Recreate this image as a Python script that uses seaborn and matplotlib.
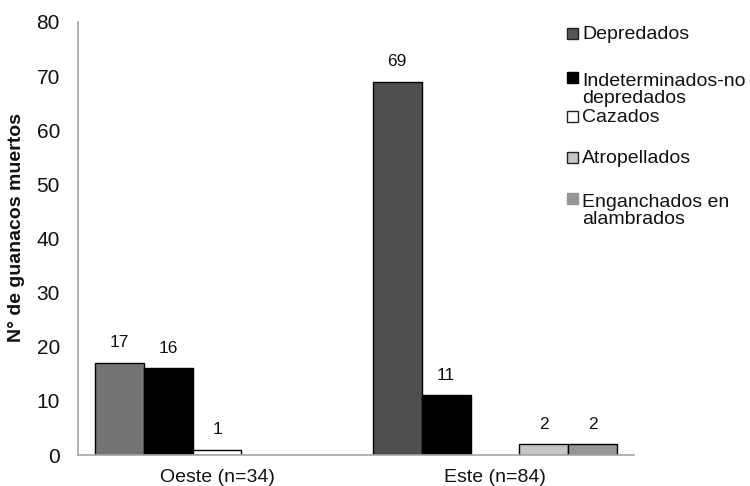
import matplotlib
matplotlib.use("Agg")
import matplotlib.pyplot as plt
from matplotlib.patches import Rectangle
import seaborn as sns
import pandas as pd

zonas = ["Oeste (n=34)", "Este (n=84)"]
causas = ["Depredados", "Indeterminados-no\ndepredados", "Cazados",
          "Atropellados", "Enganchados en\nalambrados"]
oeste = [17, 16, 1, 0, 0]
este = [69, 11, 0, 2, 2]
y_ticks = [0, 10, 20, 30, 40, 50, 60, 70, 80]

colores = ["#4f4f4f", "#000000", "#ffffff", "#c6c6c6", "#969696"]
color_oeste_depredados = "#747474"

rows = []
for zona, vals in zip(zonas, [oeste, este]):
    for causa, v in zip(causas, vals):
        rows.append({"zona": zona, "causa": causa, "n": v})
df = pd.DataFrame(rows)

sns.set_style("white")
plt.rcParams["font.family"] = ["Liberation Sans", "DejaVu Sans"]

fig = plt.figure(figsize=(7.5, 4.86), dpi=100)
ax = fig.add_axes([78 / 750, 31 / 486, 556 / 750, 433 / 486])

sns.barplot(data=df, x="zona", y="n", hue="causa", order=zonas,
            hue_order=causas, palette=colores, edgecolor="black",
            linewidth=1.0, width=0.88, gap=0, legend=False, ax=ax,
            errorbar=None)

# per-bar adjustments and value labels
for ci, cont in enumerate(ax.containers):
    vals = [oeste[ci], este[ci]]
    for bi, bar in enumerate(cont):
        if vals[bi] == 0:
            bar.set_visible(False)
        if ci == 0 and bi == 0:
            bar.set_facecolor(color_oeste_depredados)
    labels = [str(v) if v > 0 else "" for v in vals]
    ax.bar_label(cont, labels=labels, padding=9, fontsize=12.5, color="#111111")

ax.set_ylim(0, 80)
ax.set_yticks(y_ticks)
ax.set_xlim(-0.5, 1.5)
ax.tick_params(axis="y", length=0, pad=13, labelsize=15, labelcolor="#111111")
ax.tick_params(axis="x", length=0, pad=10, labelsize=14, labelcolor="#111111")
ax.set_xlabel("")
ax.set_ylabel("N° de guanacos muertos", fontsize=14, fontweight="bold",
              color="#111111")
ax.yaxis.set_label_coords(-0.095, 0.525)

for side in ["top", "right"]:
    ax.spines[side].set_visible(False)
for side in ["left", "bottom"]:
    ax.spines[side].set_color("#a6a6a6")
    ax.spines[side].set_linewidth(1.2)

# legend drawn as squares and labels in figure pixels
W, H = 750, 486
box_base = [39, 83, 122, 163, 204]
text_base = [39, 103, 122, 163, 224]
leg_colors = ["#555555", "#000000", "#ffffff", "#c6c6c6", "#969696"]
leg_edges = ["#222222", "#000000", "#222222", "#222222", "#969696"]
for txt, yb, yt, fc, ec in zip(causas, box_base, text_base, leg_colors, leg_edges):
    fig.patches.append(Rectangle((567 / W, (H - yb) / H), 11 / W, 11 / H,
                                 transform=fig.transFigure, facecolor=fc,
                                 edgecolor=ec, linewidth=1.0))
    fig.text(582 / W, (H - yt) / H, txt, fontsize=14, va="baseline",
             ha="left", color="#111111", linespacing=1.0)

fig.savefig("out.png", dpi=100)
